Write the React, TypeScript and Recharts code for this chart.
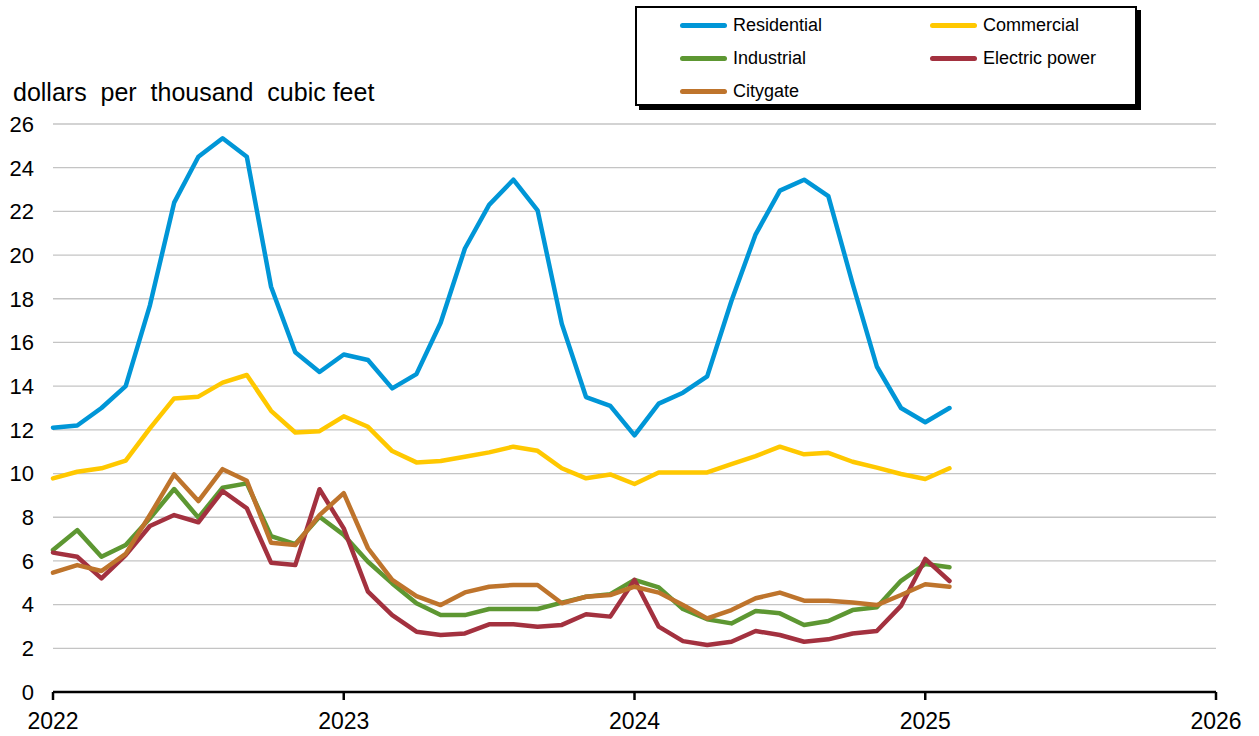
import React from "react";
import { CartesianGrid, Legend, Line, LineChart, XAxis, YAxis } from "recharts";

// monthly prices, Jan 2022 - Feb 2025
const months = [
  "2022-01", "2022-02", "2022-03", "2022-04", "2022-05", "2022-06",
  "2022-07", "2022-08", "2022-09", "2022-10", "2022-11", "2022-12",
  "2023-01", "2023-02", "2023-03", "2023-04", "2023-05", "2023-06",
  "2023-07", "2023-08", "2023-09", "2023-10", "2023-11", "2023-12",
  "2024-01", "2024-02", "2024-03", "2024-04", "2024-05", "2024-06",
  "2024-07", "2024-08", "2024-09", "2024-10", "2024-11", "2024-12",
  "2025-01", "2025-02",
];

const residential = [
  12.1, 12.2, 13.0, 14.0, 17.7, 22.4, 24.5, 25.35, 24.5, 18.55, 15.55, 14.65,
  15.45, 15.2, 13.9, 14.55, 16.9, 20.3, 22.3, 23.45, 22.05, 16.85, 13.5, 13.1,
  11.75, 13.2, 13.7, 14.45, 17.9, 20.95, 22.95, 23.45, 22.7, 18.7, 14.9, 13.0,
  12.35, 13.0,
];

const commercial = [
  9.78, 10.08, 10.24, 10.59, 12.07, 13.44, 13.52, 14.16, 14.51, 12.87, 11.88, 11.94,
  12.62, 12.14, 11.03, 10.51, 10.57, 10.77, 10.97, 11.23, 11.04, 10.24, 9.78, 9.96,
  9.52, 10.05, 10.05, 10.05, 10.43, 10.8, 11.23, 10.88, 10.95, 10.54, 10.27, 9.98,
  9.75, 10.24,
];

const industrial = [
  6.5, 7.41, 6.19, 6.73, 7.95, 9.29, 7.98, 9.35, 9.55, 7.14, 6.77, 8.02,
  7.19, 5.96, 4.97, 4.06, 3.52, 3.52, 3.8, 3.8, 3.8, 4.09, 4.36, 4.48,
  5.13, 4.79, 3.8, 3.33, 3.14, 3.71, 3.6, 3.07, 3.25, 3.75, 3.88, 5.09,
  5.86, 5.71,
];

const electricPower = [
  6.38, 6.19, 5.2, 6.27, 7.6, 8.1, 7.77, 9.2, 8.41, 5.92, 5.81, 9.28,
  7.49, 4.59, 3.52, 2.76, 2.61, 2.68, 3.1, 3.1, 2.99, 3.07, 3.56, 3.45,
  5.13, 2.99, 2.33, 2.15, 2.3, 2.79, 2.61, 2.3, 2.41, 2.68, 2.79, 3.94,
  6.09, 5.08,
];

const citygate = [
  5.46, 5.81, 5.54, 6.32, 8.1, 9.96, 8.74, 10.2, 9.67, 6.83, 6.73, 8.1,
  9.1, 6.58, 5.13, 4.39, 3.98, 4.56, 4.82, 4.9, 4.9, 4.06, 4.36, 4.44,
  4.82, 4.55, 3.98, 3.37, 3.75, 4.29, 4.55, 4.18, 4.18, 4.1, 3.98, 4.44,
  4.93, 4.82,
];

const yearTicks = [2022, 2023, 2024, 2025, 2026];
const priceTicks = [0, 2, 4, 6, 8, 10, 12, 14, 16, 18, 20, 22, 24, 26];

const series = [
  { key: "residential", name: "Residential", color: "#0096d7" },
  { key: "commercial", name: "Commercial", color: "#ffc800" },
  { key: "industrial", name: "Industrial", color: "#5d9732" },
  { key: "electricPower", name: "Electric power", color: "#a3313f" },
  { key: "citygate", name: "Citygate", color: "#be742c" },
];

const FONT = "'Liberation Sans', Arial, sans-serif";

function toYear(month: string): number {
  const [y, m] = month.split("-").map(Number);
  return y + (m - 1) / 12;
}

const data = months.map((month, i) => ({
  t: toYear(month),
  residential: residential[i],
  commercial: commercial[i],
  industrial: industrial[i],
  electricPower: electricPower[i],
  citygate: citygate[i],
}));

function LegendBox() {
  return (
    <div
      style={{
        position: "relative",
        width: 502,
        height: 100,
        border: "2px solid #000",
        boxShadow: "4px 4px 0 #000",
        background: "#fff",
        boxSizing: "border-box",
        fontFamily: FONT,
        fontSize: 18,
        color: "#000",
      }}
    >
      {series.map((s, i) => (
        <div
          key={s.key}
          style={{
            position: "absolute",
            left: 43 + (i % 2) * 250,
            top: 6 + Math.floor(i / 2) * 33,
            height: 22,
            display: "flex",
            alignItems: "center",
            whiteSpace: "nowrap",
          }}
        >
          <span
            style={{
              display: "inline-block",
              width: 47,
              height: 5,
              borderRadius: 3,
              background: s.color,
              marginRight: 6,
            }}
          />
          <span>{s.name}</span>
        </div>
      ))}
    </div>
  );
}

export default function App() {
  return (
    <div
      style={{
        position: "absolute",
        left: 0,
        top: 0,
        width: 1259,
        height: 736,
        background: "#fff",
        fontFamily: FONT,
      }}
    >
      <div
        style={{
          position: "absolute",
          left: 13,
          top: 78,
          fontSize: 25,
          whiteSpace: "pre",
          color: "#000",
        }}
      >
        {"dollars  per  thousand  cubic feet"}
      </div>
      <LineChart
        width={1259}
        height={736}
        data={data}
        margin={{ top: 124, right: 43, bottom: 0, left: 0 }}
      >
        <CartesianGrid vertical={false} stroke="#c4c4c4" strokeWidth={1.3} />
        <XAxis
          dataKey="t"
          type="number"
          domain={[2022, 2026]}
          ticks={yearTicks}
          interval={0}
          height={44}
          axisLine={{ stroke: "#000", strokeWidth: 2.5 }}
          tickLine={{ stroke: "#000", strokeWidth: 2.5 }}
          tickSize={8}
          tickMargin={13}
          tick={{ fill: "#000", fontSize: 23, fontFamily: FONT }}
        />
        <YAxis
          type="number"
          domain={[0, 26]}
          ticks={priceTicks}
          interval={0}
          width={53}
          axisLine={false}
          tickLine={false}
          tickSize={0}
          tickMargin={19}
          tick={{ fill: "#000", fontSize: 22, fontFamily: FONT }}
        />
        <Legend
          verticalAlign="middle"
          align="center"
          layout="horizontal"
          wrapperStyle={{ left: 635, top: 6, width: 502, height: 100 }}
          content={() => <LegendBox />}
        />
        {series.map((s) => (
          <Line
            key={s.key}
            type="linear"
            dataKey={s.key}
            name={s.name}
            stroke={s.color}
            strokeWidth={4.5}
            strokeLinejoin="round"
            strokeLinecap="round"
            dot={false}
            activeDot={false}
            isAnimationActive={false}
          />
        ))}
      </LineChart>
    </div>
  );
}
